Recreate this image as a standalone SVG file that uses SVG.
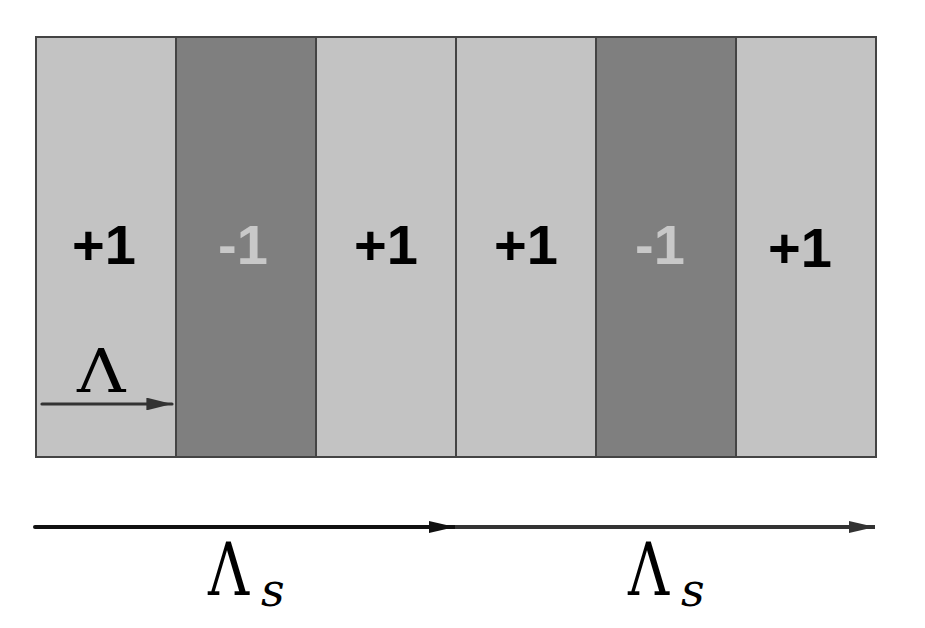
<svg xmlns="http://www.w3.org/2000/svg" width="925" height="628" viewBox="0 0 925 628">
<style>
.light{fill:#c3c3c3;stroke:#444;stroke-width:2}
.dark{fill:#7f7f7f;stroke:#444;stroke-width:2}
.plus{font-family:"Liberation Sans","Open Sans",sans-serif;font-weight:bold;font-size:56px;fill:#000;text-anchor:middle}
.minus{font-family:"Liberation Sans","Open Sans",sans-serif;font-weight:bold;font-size:56px;fill:#c8c8c8;text-anchor:middle}
.sym{font-family:"DejaVu Serif","Liberation Serif",serif;fill:#000}
.sub{font-family:"DejaVu Serif","Liberation Serif",serif;font-style:italic;fill:#000}
</style>
<defs>
<marker id="ah" markerWidth="8" markerHeight="4" refX="8" refY="2" orient="auto" markerUnits="strokeWidth"><path d="M0,0 L8,2 L0,4 Z" fill="#333"/></marker>
<marker id="ahb" markerWidth="6.5" markerHeight="3" refX="6.5" refY="1.5" orient="auto" markerUnits="strokeWidth"><path d="M0,0 L6.5,1.5 L0,3 Z" fill="#111"/></marker>
<marker id="ahg" markerWidth="6.5" markerHeight="3" refX="6.5" refY="1.5" orient="auto" markerUnits="strokeWidth"><path d="M0,0 L6.5,1.5 L0,3 Z" fill="#333"/></marker>
</defs>
<g id="col1"><rect class="light" x="36" y="37" width="140" height="420"/><text class="plus" x="104" y="264">+1</text></g>
<g id="col2"><rect class="dark" x="176" y="37" width="140" height="420"/><text class="minus" x="243" y="264">-1</text></g>
<g id="col3"><rect class="light" x="316" y="37" width="140" height="420"/><text class="plus" x="386" y="264">+1</text></g>
<g id="col4"><rect class="light" x="456" y="37" width="140" height="420"/><text class="plus" x="526" y="264">+1</text></g>
<g id="col5"><rect class="dark" x="596" y="37" width="140" height="420"/><text class="minus" x="660" y="264">-1</text></g>
<g id="col6"><rect class="light" x="736" y="37" width="140" height="420"/><text class="plus" x="800" y="267">+1</text></g>
<g id="connectors">
<line x1="42" y1="404" x2="172" y2="404" stroke="#333" stroke-width="3.2" stroke-linecap="round" marker-end="url(#ah)"/>
<line x1="35" y1="527" x2="455" y2="527" stroke="#111" stroke-width="4" stroke-linecap="round" marker-end="url(#ahb)"/>
<line x1="455" y1="527" x2="875" y2="527" stroke="#333" stroke-width="4" marker-end="url(#ahg)"/>
</g>
<g id="labels">
<text class="sym" font-size="60" transform="translate(77,392) scale(1.12,1)">Λ</text>
<text class="sym" font-size="73" transform="translate(208,595) scale(0.78,1)">Λ</text>
<text class="sub" font-size="46" x="261" y="606">s</text>
<text class="sym" font-size="73" transform="translate(628,595) scale(0.78,1)">Λ</text>
<text class="sub" font-size="46" x="681" y="606">s</text>
</g>
</svg>
